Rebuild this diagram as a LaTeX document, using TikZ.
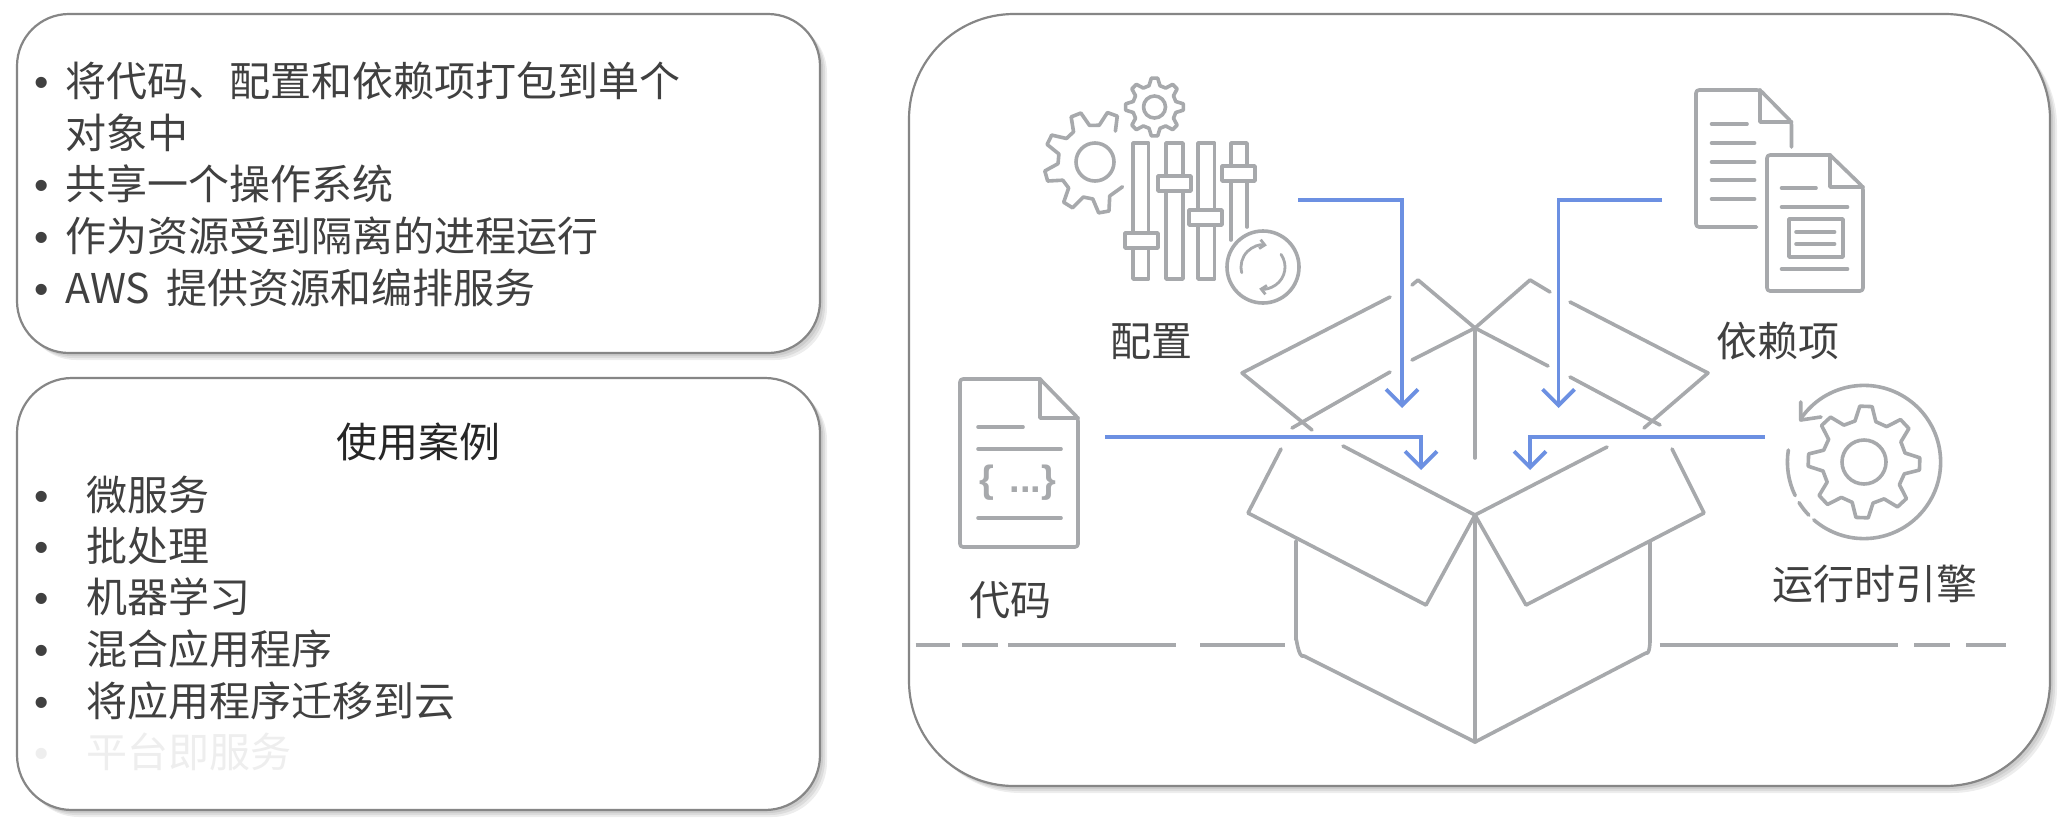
\documentclass[tikz,border=0pt]{standalone}
\usepackage{fontspec}
\setmainfont{Noto Sans CJK SC}
\newfontfamily\bulfont{Liberation Sans}
\usetikzlibrary{arrows.meta}
\definecolor{iconc}{HTML}{A7A9AC}
\definecolor{bluec}{HTML}{6C90E2}
\definecolor{framec}{HTML}{868686}
\definecolor{textc}{HTML}{404040}
\definecolor{fadec}{HTML}{EEEEEE}
\tikzset{
 iconline/.style={draw=iconc,line width=3.6pt,line join=round,line cap=round},
 groundline/.style={draw=iconc,line width=4.2pt},
 flowline/.style={draw=bluec,line width=3.8pt,-{Straight Barb[length=16pt,width=32pt,line width=3.8pt]}},
 panel/.style={draw=framec,line width=2.2pt,fill=white},
 shade/.style={fill=black,opacity=.07},
 lbl/.style={inner sep=0pt,text=textc,font=\fontsize{41}{50}\selectfont},
 item/.style={inner sep=0pt,anchor=base west,text=textc,font=\fontsize{41}{50}\selectfont},
}
\newcommand{\bulA}{\makebox[31pt][l]{\bulfont •}}
\newcommand{\bulB}{\makebox[52pt][l]{\bulfont •}}
% #1 cx, #2 cy, #3 outer radius, #4 root radius, #5 step, #6 start angle, #7 tooth angles
\newcommand{\cogopen}[7]{\begin{scope}[shift={(#1,#2)}]
 \draw[iconline] (#6:#4) foreach \a in {#7} { -- ({\a-.32*#5}:#4) -- ({\a-.14*#5}:#3) -- ({\a+.14*#5}:#3) -- ({\a+.32*#5}:#4) };
\end{scope}}
\begin{document}
\begin{tikzpicture}[x=1pt,y=-1pt]
\useasboundingbox (0,0) rectangle (2058,820);
\fill[white] (0,0) rectangle (2058,820);
% panels
\foreach \s in {3,5,7}{
 \fill[shade,rounded corners=52pt] (17+\s,14+\s) rectangle (820+\s,353+\s);
 \fill[shade,rounded corners=55pt] (17+\s,378+\s) rectangle (820+\s,810+\s);
 \fill[shade,rounded corners=105pt] (909+\s,14+\s) rectangle (2050+\s,786+\s);
}
\draw[panel,rounded corners=52pt] (17,14) rectangle (820,353);
\draw[panel,rounded corners=55pt] (17,378) rectangle (820,810);
\draw[panel,rounded corners=105pt] (909,14) rectangle (2050,786);
% left text
\node[item] (a1) at (34,96) {\bulA 将代码、配置和依赖项打包到单个};
\node[item] (a1b) at (65,148) {对象中};
\node[item] (a2) at (34,199) {\bulA 共享一个操作系统};
\node[item] (a3) at (34,251) {\bulA 作为资源受到隔离的进程运行};
\node[item] (a4) at (34,303) {\bulA AWS\hspace{7pt} 提供资源和编排服务};
\node[lbl,text=black!85] (ut) at (418,442) {使用案例};
\node[item] (b1) at (34,510) {\bulB 微服务};
\node[item] (b2) at (34,561) {\bulB 批处理};
\node[item] (b3) at (34,612) {\bulB 机器学习};
\node[item] (b4) at (34,664) {\bulB 混合应用程序};
\node[item] (b5) at (34,716) {\bulB 将应用程序迁移到云};
\node[item,text=fadec] (b6) at (34,767) {\bulB 平台即服务};
% labels
\node[lbl] (lcfg) at (1151,342) {配置};
\node[lbl] (ldep) at (1778,341) {依赖项};
\node[lbl] (lcode) at (1010,600) {代码};
\node[lbl] (lrun) at (1875,584) {运行时引擎};
% ground
\draw[groundline] (915.5,645) -- (950,645);
\draw[groundline] (962,645) -- (998,645);
\draw[groundline] (1008,645) -- (1176,645);
\draw[groundline] (1200,645) -- (1285,645);
\draw[groundline] (1659.5,645) -- (1898,645);
\draw[groundline] (1914,645) -- (1950,645);
\draw[groundline] (1966,645) -- (2006,645);
% box: back flaps
\draw[iconline] (1390,297) -- (1242,373) -- (1312,430);
\draw[iconline] (1412,285) -- (1418,280) -- (1475,328) -- (1412,360);
\draw[iconline] (1390,372) -- (1292,428);
\draw[iconline] (1475,328) -- (1530,280) -- (1550,292);
\draw[iconline] (1570,302) -- (1708,373) -- (1644,428);
\draw[iconline] (1475,328) -- (1548,366);
\draw[iconline] (1570,377) -- (1660,425);
\draw[iconline] (1475,328) -- (1475,458);
% box: front flaps
\draw[iconline] (1281,449) -- (1248,513) -- (1426,605) -- (1475,515) -- (1343,446);
\draw[iconline] (1607,447) -- (1475,515) -- (1526,605) -- (1704,513) -- (1672,449);
% box: body
\draw[iconline] (1296,541) -- (1296,640) to[out=90,in=210] (1304,656) -- (1475,742) -- (1646,653) to[out=-30,in=90] (1650,640) -- (1650,542);
\draw[iconline] (1475,515) -- (1475,742);
% config icon
\cogopen{1095}{162}{51}{37}{42}{42}{80,122,164,206,248,290}
\draw[iconline] (1095,162) circle (19);
\begin{scope}[shift={(1154.5,107)}]
 \draw[iconline] (-14.4:22) foreach \a in {0,45,...,315} { -- ({\a-14.4}:22) -- ({\a-6.3}:29) -- ({\a+6.3}:29) -- ({\a+14.4}:22) } -- cycle;
\end{scope}
\draw[iconline] (1154.5,107) circle (11);
% sliders
\draw[iconline] (1133,233) -- (1133,143) -- (1148.6,143) -- (1148.6,233);
\draw[iconline] (1125,233) rectangle (1158,248);
\draw[iconline] (1133,248) -- (1133,279) -- (1148.6,279) -- (1148.6,248);
\draw[iconline] (1166,176) -- (1166,143) -- (1183,143) -- (1183,176);
\draw[iconline] (1158,176) rectangle (1191,191);
\draw[iconline] (1166,191) -- (1166,279) -- (1183,279) -- (1183,191);
\draw[iconline] (1198,210) -- (1198,143) -- (1214.5,143) -- (1214.5,210);
\draw[iconline] (1189,210) rectangle (1222,225);
\draw[iconline] (1198,225) -- (1198,279) -- (1214.5,279) -- (1214.5,225);
\draw[iconline] (1231,166) -- (1231,143) -- (1247,143) -- (1247,166);
\draw[iconline] (1222,166) rectangle (1255,181);
\draw[iconline] (1231,181) -- (1231,240);
\draw[iconline] (1247,181) -- (1247,227);
\draw[iconline] (1263,267) circle (36);
\begin{scope}[shift={(1263,267)}]
 \draw[iconline,line width=2.8pt,-{Straight Barb[length=5pt,width=9pt]}] (165:22) arc[start angle=165,end angle=280,radius=22];
 \draw[iconline,line width=2.8pt,-{Straight Barb[length=5pt,width=9pt]}] (-35:22) arc[start angle=-35,end angle=100,radius=22];
\end{scope}
% dependency icon
\draw[iconline,rounded corners=3pt] (1791.5,147) -- (1791.5,122) -- (1760,90) -- (1696,90) -- (1696,227) -- (1756.5,227);
\draw[iconline] (1760,90) -- (1760,122) -- (1791.5,122);
\draw[iconline] (1711.5,124) -- (1747,124);
\foreach \yy in {143,162,180,199}{\draw[iconline] (1711.5,\yy) -- (1754.6,\yy);}
\draw[iconline,rounded corners=3pt] (1830,155) -- (1767,155) -- (1767,291) -- (1863,291) -- (1863,187) -- (1830,155);
\draw[iconline] (1830,155) -- (1830,187) -- (1863,187);
\draw[iconline] (1781.5,188) -- (1816,188);
\draw[iconline] (1781.5,207) -- (1847.5,207);
\draw[iconline] (1789,219) rectangle (1843,257);
\draw[iconline] (1796,232) -- (1834.6,232);
\draw[iconline] (1796,244) -- (1834.6,244);
\draw[iconline] (1781.5,269) -- (1847.5,269);
% code icon
\draw[iconline,rounded corners=3pt] (1040,379) -- (960,379) -- (960,547) -- (1078,547) -- (1078,418) -- (1040,379);
\draw[iconline] (1040,379) -- (1040,418) -- (1078,418);
\draw[iconline] (978,427) -- (1023,427);
\draw[iconline] (978,449) -- (1061,449);
\draw[iconline] (978,518) -- (1061,518);
\node[inner sep=0pt,text=iconc,font=\bulfont\bfseries\fontsize{38}{42}\selectfont] (brace) at (1018,483) {\{\hspace{15pt}...\}};
% runtime icon
\begin{scope}[shift={(1864,462)}]
 \draw[iconline] (-12.4:42) foreach \a in {2,47,...,317} { -- ({\a-14.4}:42) -- ({\a-6.3}:56) -- ({\a+6.3}:56) -- ({\a+14.4}:42) } -- cycle;
 \draw[iconline] (0,0) circle (22);
 \draw[iconline] (215:76.6) arc[start angle=215,end angle=491,radius=76.6];
 \draw[iconline] (136:76.6) arc[start angle=136,end angle=148,radius=76.6];
 \draw[iconline] (154:76.6) arc[start angle=154,end angle=189,radius=76.6];
\end{scope}
\draw[iconline] (1800.7,402) -- (1800.7,420) -- (1821,417);
% connectors
\coordinate (s1) at (1298,200); \coordinate (c1) at (1402,200); \coordinate (t1) at (1402,408);
\coordinate (s2) at (1662,200); \coordinate (c2) at (1558.5,200); \coordinate (t2) at (1558.5,408);
\coordinate (s3) at (1105,437); \coordinate (c3) at (1421,437); \coordinate (t3) at (1421,470);
\coordinate (s4) at (1764.5,437); \coordinate (c4) at (1530,437); \coordinate (t4) at (1530,470);
\draw[flowline] (s1) -- (c1) -- (t1);
\draw[flowline] (s2) -- (c2) -- (t2);
\draw[flowline] (s3) -- (c3) -- (t3);
\draw[flowline] (s4) -- (c4) -- (t4);
\end{tikzpicture}
\end{document}
